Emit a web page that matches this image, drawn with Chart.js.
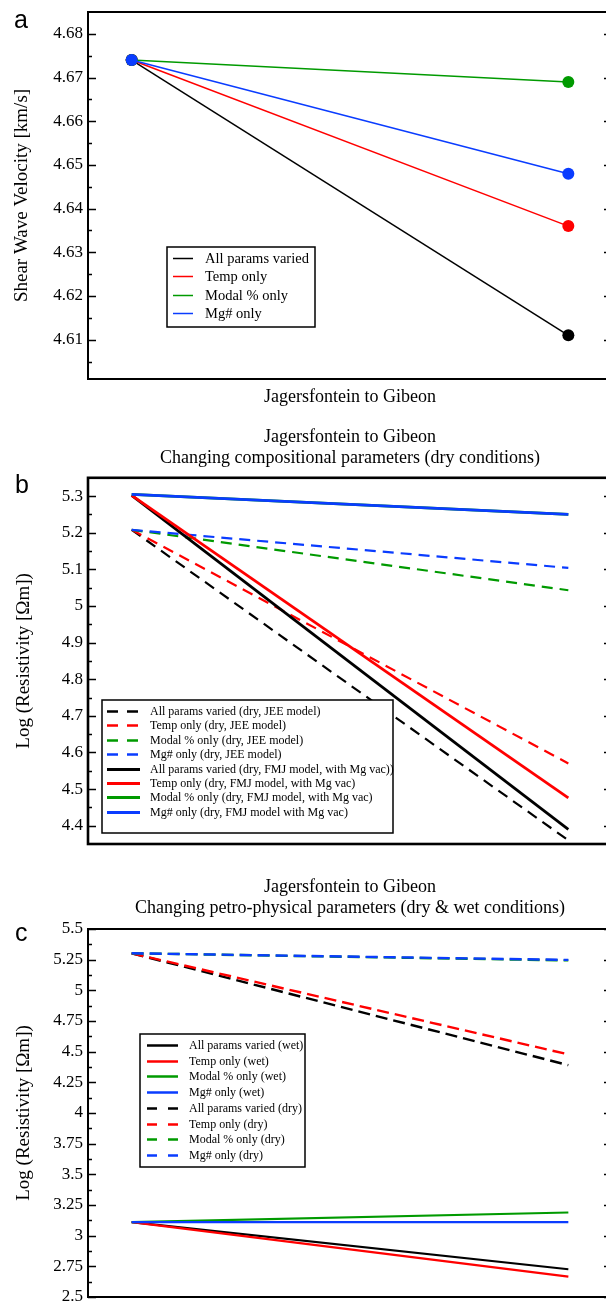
<!DOCTYPE html>
<html>
<head>
<meta charset="utf-8">
<script src="https://cdn.jsdelivr.net/npm/chart.js@4.4.1/dist/chart.umd.min.js"></script>
<style>
  body { margin: 0; background: #fff; }
  #page { position: relative; width: 606px; height: 1302px; overflow: hidden; background: #fff; }
  #page canvas { position: absolute; left: 0; }
</style>
</head>
<body>
<div id="page">
  <canvas id="chartA" width="615" height="410" style="top:0px"></canvas>
  <canvas id="chartB" width="615" height="440" style="top:420px"></canvas>
  <canvas id="chartC" width="615" height="450" style="top:865px"></canvas>
</div>
<script>
// x positions: Jagersfontein (0) to Gibeon (1)
const xPos = [0, 1];

// panel a - shear wave velocity [km/s]
const aNames = ["All params varied", "Temp only", "Modal % only", "Mg# only"];
const aAll = [4.674, 4.611];
const aTemp = [4.674, 4.636];
const aModal = [4.674, 4.669];
const aMg = [4.674, 4.648];
const aTicks = [4.61, 4.62, 4.63, 4.64, 4.65, 4.66, 4.67, 4.68];

// panel b - log resistivity, dry, JEE vs FMJ model
const bNames = [
  "All params varied (dry, JEE model)",
  "Temp only (dry, JEE model)",
  "Modal % only (dry, JEE model)",
  "Mg# only (dry, JEE model)",
  "All params varied (dry, FMJ model, with Mg vac))",
  "Temp only (dry, FMJ model, with Mg vac)",
  "Modal % only (dry, FMJ model, with Mg vac)",
  "Mg# only (dry, FMJ model with Mg vac)"
];
const bAllJEE = [5.208, 4.36];
const bTempJEE = [5.208, 4.57];
const bModalJEE = [5.208, 5.043];
const bMgJEE = [5.208, 5.104];
const bAllFMJ = [5.302, 4.39];
const bTempFMJ = [5.302, 4.476];
const bModalFMJ = [5.305, 5.25];
const bMgFMJ = [5.305, 5.25];
const bTicks = [4.4, 4.5, 4.6, 4.7, 4.8, 4.9, 5, 5.1, 5.2, 5.3];

// panel c - log resistivity, wet vs dry
const cNames = [
  "All params varied (wet)",
  "Temp only (wet)",
  "Modal % only (wet)",
  "Mg# only (wet)",
  "All params varied (dry)",
  "Temp only (dry)",
  "Modal % only (dry)",
  "Mg# only (dry)"
];
const cAllWet = [3.11, 2.726];
const cTempWet = [3.11, 2.666];
const cModalWet = [3.11, 3.189];
const cMgWet = [3.11, 3.11];
const cAllDry = [5.302, 4.39];
const cTempDry = [5.302, 4.478];
const cModalDry = [5.302, 5.244];
const cMgDry = [5.302, 5.248];
const cTicks = [2.5, 2.75, 3, 3.25, 3.5, 3.75, 4, 4.25, 4.5, 4.75, 5, 5.25, 5.5];

const BLACK = "#000000", RED = "#ff0000", GREEN = "#009a00", BLUE = "#0a3cff";
const SERIF = "'Liberation Serif', 'Times New Roman', serif";

function pts(vals) {
  return xPos.map((x, i) => ({ x: x, y: vals[i] }));
}

// box, inward ticks (major + minor) on left and right sides
const frame = {
  id: "frame",
  afterDatasetsDraw(chart, args, o) {
    const { ctx, chartArea: a } = chart;
    const ys = chart.scales.y;
    const major = ys.ticks.map(t => t.value);
    const step = major[1] - major[0];
    const minor = [];
    major.forEach(v => minor.push(v - step / 2));
    minor.push(major[major.length - 1] + step / 2);
    ctx.save();
    ctx.strokeStyle = "#000";
    ctx.lineWidth = o.tickWidth;
    ctx.beginPath();
    major.forEach(v => {
      const y = Math.round(ys.getPixelForValue(v)) + 0.5;
      ctx.moveTo(a.left, y); ctx.lineTo(a.left + 8, y);
      ctx.moveTo(a.right, y); ctx.lineTo(a.right - 8, y);
    });
    minor.forEach(v => {
      if (v <= ys.min + 1e-9 || v >= ys.max - 1e-9) return;
      const y = Math.round(ys.getPixelForValue(v)) + 0.5;
      ctx.moveTo(a.left, y); ctx.lineTo(a.left + 4, y);
      ctx.moveTo(a.right, y); ctx.lineTo(a.right - 4, y);
    });
    ctx.stroke();
    ctx.lineWidth = o.borderWidth;
    ctx.strokeRect(a.left, a.top, a.right - a.left, a.bottom - a.top);
    ctx.restore();
  },
  afterDraw(chart, args, o) {
    const ctx = chart.ctx;
    ctx.save();
    ctx.fillStyle = "#000";
    ctx.font = "25px 'Liberation Sans', Arial, sans-serif";
    ctx.textBaseline = "alphabetic";
    ctx.fillText(o.letter, o.letterX, o.letterY);
    ctx.restore();
  }
};

// legend box drawn inside the plot
const boxLegend = {
  id: "boxLegend",
  afterDraw(chart, args, o) {
    const ctx = chart.ctx;
    const [bx, by, bw, bh] = o.box;
    ctx.save();
    ctx.fillStyle = "#fff";
    ctx.fillRect(bx, by, bw, bh);
    ctx.strokeStyle = "#000";
    ctx.lineWidth = o.borderWidth;
    ctx.strokeRect(bx, by, bw, bh);
    ctx.font = o.fontSize + "px " + SERIF;
    ctx.textBaseline = "middle";
    chart.data.datasets.forEach((ds, i) => {
      const y = Math.round(o.rowY + i * o.rowGap) + 0.5;
      ctx.strokeStyle = ds.borderColor;
      ctx.lineWidth = ds.borderDash ? o.dashWidth : o.solidWidth;
      ctx.setLineDash(ds.borderDash ? o.dash : []);
      ctx.beginPath();
      ctx.moveTo(o.sampleX[0], y);
      ctx.lineTo(o.sampleX[1], y);
      ctx.stroke();
      ctx.setLineDash([]);
      ctx.fillStyle = "#000";
      ctx.fillText(ds.label, o.textX, y + 0.5);
    });
    ctx.restore();
  }
};

function yAxis(min, max, ticks, title, titlePad) {
  return {
    type: "linear",
    min: min,
    max: max,
    afterBuildTicks: s => { s.ticks = ticks.map(v => ({ value: v })); },
    afterFit: s => { s.width = 88; s.paddingTop = 0; s.paddingBottom = 0; },
    grid: { display: false, drawTicks: false, tickLength: 0 },
    border: { display: false },
    ticks: {
      color: "#000",
      padding: 5,
      font: { family: SERIF, size: 17 },
      callback: v => String(v)
    },
    title: {
      display: true,
      text: title,
      color: "#000",
      font: { family: SERIF, size: 19 },
      padding: { top: titlePad, bottom: 0 }
    }
  };
}

function xAxis(height, title) {
  return {
    type: "linear",
    min: -0.1,
    max: 1.1,
    afterFit: s => { s.height = height; },
    grid: { display: false, drawTicks: false, tickLength: 0 },
    border: { display: false },
    ticks: { display: false },
    title: {
      display: !!title,
      text: title || "",
      color: "#000",
      font: { family: SERIF, size: 18 },
      padding: { top: 0, bottom: 2 }
    }
  };
}

function line(label, vals, color, width, dash, order, radius) {
  return {
    label: label,
    data: pts(vals),
    borderColor: color,
    backgroundColor: color,
    borderWidth: width,
    borderDash: dash,
    borderCapStyle: "butt",
    pointRadius: radius || 0,
    pointBorderWidth: 0,
    pointHoverRadius: radius || 0,
    order: order
  };
}

Chart.defaults.animation = false;
Chart.defaults.devicePixelRatio = 1;

// panel a
new Chart(document.getElementById("chartA"), {
  type: "line",
  data: {
    datasets: [
      line(aNames[0], aAll, BLACK, 1.5, undefined, 4, 6),
      line(aNames[1], aTemp, RED, 1.5, undefined, 3, 6),
      line(aNames[2], aModal, GREEN, 1.5, undefined, 2, 6),
      line(aNames[3], aMg, BLUE, 1.5, undefined, 1, 6)
    ]
  },
  options: {
    responsive: false,
    layout: { autoPadding: false, padding: { top: 12, right: 3, bottom: 0, left: 0 } },
    scales: {
      x: xAxis(31, "Jagersfontein to Gibeon"),
      y: yAxis(4.601, 4.685, aTicks, "Shear Wave Velocity [km/s]", 11)
    },
    plugins: {
      legend: { display: false },
      tooltip: { enabled: false },
      frame: { tickWidth: 1.5, borderWidth: 2, letter: "a", letterX: 14, letterY: 28 },
      boxLegend: {
        box: [167, 247, 148, 80], borderWidth: 1.5,
        rowY: 258, rowGap: 18.4, sampleX: [173, 193], textX: 205,
        fontSize: 14.5, solidWidth: 1.5, dashWidth: 1.5, dash: [8, 6]
      }
    }
  },
  plugins: [frame, boxLegend]
});

// panel b
const dashB = [11, 7];
new Chart(document.getElementById("chartB"), {
  type: "line",
  data: {
    datasets: [
      line(bNames[0], bAllJEE, BLACK, 2.2, dashB, 8),
      line(bNames[1], bTempJEE, RED, 2.2, dashB, 7),
      line(bNames[2], bModalJEE, GREEN, 2.2, dashB, 6),
      line(bNames[3], bMgJEE, BLUE, 2.2, dashB, 5),
      line(bNames[4], bAllFMJ, BLACK, 2.8, undefined, 4),
      line(bNames[5], bTempFMJ, RED, 2.8, undefined, 3),
      line(bNames[6], bModalFMJ, GREEN, 2.8, undefined, 2),
      line(bNames[7], bMgFMJ, BLUE, 2.8, undefined, 1)
    ]
  },
  options: {
    responsive: false,
    layout: { autoPadding: false, padding: { top: 0, right: 3, bottom: 0, left: 0 } },
    scales: {
      x: xAxis(16),
      y: yAxis(4.35, 5.35, bTicks, "Log (Resistivity [\u03a9m])", 13)
    },
    plugins: {
      legend: { display: false },
      tooltip: { enabled: false },
      title: {
        display: true,
        fullSize: false,
        text: ["Jagersfontein to Gibeon", "Changing compositional parameters (dry conditions)"],
        color: "#000",
        font: { family: SERIF, size: 18, weight: "normal" },
        padding: { top: 6, bottom: 8.6 }
      },
      frame: { tickWidth: 1.5, borderWidth: 2.6, letter: "b", letterX: 15, letterY: 73 },
      boxLegend: {
        box: [102, 280, 291, 133], borderWidth: 1.5,
        rowY: 291, rowGap: 14.4, sampleX: [107, 140], textX: 150,
        fontSize: 12, solidWidth: 3, dashWidth: 2.5, dash: [11, 9]
      }
    }
  },
  plugins: [frame, boxLegend]
});

// panel c
const dashC = [12, 6];
new Chart(document.getElementById("chartC"), {
  type: "line",
  data: {
    datasets: [
      line(cNames[0], cAllWet, BLACK, 2.2, undefined, 8),
      line(cNames[1], cTempWet, RED, 2.2, undefined, 7),
      line(cNames[2], cModalWet, GREEN, 2.2, undefined, 6),
      line(cNames[3], cMgWet, BLUE, 2.2, undefined, 5),
      line(cNames[4], cAllDry, BLACK, 2.4, dashC, 4),
      line(cNames[5], cTempDry, RED, 2.4, dashC, 3),
      line(cNames[6], cModalDry, GREEN, 2.4, dashC, 2),
      line(cNames[7], cMgDry, BLUE, 2.4, dashC, 1)
    ]
  },
  options: {
    responsive: false,
    layout: { autoPadding: false, padding: { top: 0, right: 3, bottom: 0, left: 0 } },
    scales: {
      x: xAxis(18),
      y: yAxis(2.5, 5.5, cTicks, "Log (Resistivity [\u03a9m])", 13)
    },
    plugins: {
      legend: { display: false },
      tooltip: { enabled: false },
      title: {
        display: true,
        fullSize: false,
        text: ["Jagersfontein to Gibeon", "Changing petro-physical parameters (dry & wet conditions)"],
        color: "#000",
        font: { family: SERIF, size: 18, weight: "normal" },
        padding: { top: 11, bottom: 9.8 }
      },
      frame: { tickWidth: 1.5, borderWidth: 2, letter: "c", letterX: 15, letterY: 76 },
      boxLegend: {
        box: [140, 169, 165, 133], borderWidth: 1.5,
        rowY: 180, rowGap: 15.7, sampleX: [147, 178], textX: 189,
        fontSize: 12, solidWidth: 2.5, dashWidth: 2.5, dash: [10, 11]
      }
    }
  },
  plugins: [frame, boxLegend]
});
</script>
</body>
</html>
